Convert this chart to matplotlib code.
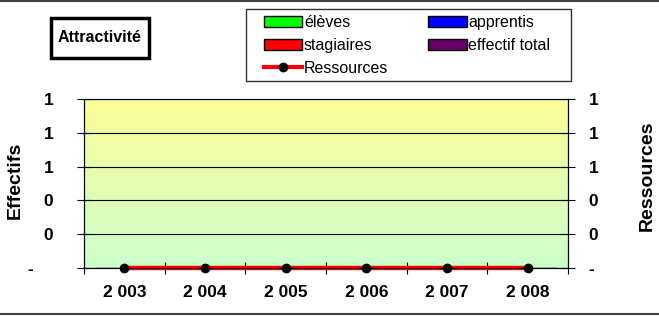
import matplotlib
matplotlib.use("Agg")
import matplotlib.pyplot as plt
import numpy as np
from matplotlib.lines import Line2D
from matplotlib.patches import Patch, Rectangle
from matplotlib.ticker import FixedLocator, FuncFormatter

plt.rcParams["font.family"] = ["Liberation Sans", "DejaVu Sans"]

years = ["2 003", "2 004", "2 005", "2 006", "2 007", "2 008"]
eleves = [0, 0, 0, 0, 0, 0]
apprentis = [0, 0, 0, 0, 0, 0]
stagiaires = [0, 0, 0, 0, 0, 0]
effectif_total = [0, 0, 0, 0, 0, 0]
ressources = [0, 0, 0, 0, 0, 0]
yticks = [0, 0.2, 0.4, 0.6, 0.8, 1.0]

W, H = 659, 316
fig = plt.figure(figsize=(W / 100, H / 100), dpi=100)
ax = fig.add_axes([84 / W, 1 - 268 / H, (568 - 84) / W, (268 - 99) / H])
ax2 = ax.twinx()

x = np.arange(len(years))
bw = 0.18
ax.bar(x - 1.5 * bw, eleves, bw, color="#00ff00", edgecolor="black")
ax.bar(x - 0.5 * bw, apprentis, bw, color="#0000ff", edgecolor="black")
ax.bar(x + 0.5 * bw, stagiaires, bw, color="#ff0000", edgecolor="black")
ax.bar(x + 1.5 * bw, effectif_total, bw, color="#660066", edgecolor="black")

# gradient background: yellow at top to pale green at bottom
top = np.array([252, 252, 150]) / 255
bot = np.array([204, 255, 204]) / 255
t = np.linspace(0, 1, 256)[:, None]
grad = (top * (1 - t) + bot * t)[:, None, :]
ax.imshow(grad, extent=[0, 1, 0, 1], transform=ax.transAxes, aspect="auto", zorder=0)

ax.set_xlim(-0.5, len(years) - 0.5)
ax.set_ylim(0, 1)
ax.yaxis.set_major_locator(FixedLocator(yticks))
ax.yaxis.set_major_formatter(FuncFormatter(lambda v, p: "-    " if v == 0 else f"{v:.0f}"))
ax.grid(axis="y", color="black", lw=0.8)
ax.set_axisbelow(False)

ax.set_xticks(x)
ax.set_xticklabels(years)
ax.set_xticks(np.arange(len(years) + 1) - 0.5, minor=True)
ax.tick_params(axis="x", which="major", length=0, pad=12, labelsize=12.5)
ax.tick_params(axis="x", which="minor", direction="inout", length=8, width=0.8)
ax.tick_params(axis="y", direction="inout", length=10, width=0.8, pad=17,
               labelsize=12.5)

ax.plot(x, ressources, color="red", lw=3.2, marker="o", ms=6,
        mfc="black", mec="black", zorder=5, clip_on=False)

for s in ("left", "bottom", "right"):
    ax.spines[s].set_color("black")
ax.spines["top"].set_color("#808080")

ax2.set_ylim(0, 1)
ax2.yaxis.set_major_locator(FixedLocator(yticks))
ax2.yaxis.set_major_formatter(FuncFormatter(lambda v, p: "-" if v == 0 else f"{v:.0f}"))
ax2.tick_params(axis="y", direction="inout", length=10, width=0.8, pad=10,
                labelsize=12.5)

for lab in ax.get_xticklabels() + ax.get_yticklabels() + ax2.get_yticklabels():
    lab.set_fontweight("bold")

fig.text(15 / W, 1 - 180 / H, "Effectifs", rotation=90, ha="center",
         va="center", fontsize=14, fontweight="bold")
fig.text(647 / W, 1 - 176 / H, "Ressources", rotation=90, ha="center",
         va="center", fontsize=14, fontweight="bold")

# title box
fig.patches.append(Rectangle((51 / W, 1 - 58 / H), 98 / W, 40 / H,
                             transform=fig.transFigure, fill=False,
                             edgecolor="black", lw=2.5))
fig.text(100 / W, 1 - 38 / H, "Attractivité", ha="center", va="center",
         fontsize=11.5, fontweight="bold")

handles = [
    Patch(facecolor="#00ff00", edgecolor="black", label="élèves"),
    Patch(facecolor="#ff0000", edgecolor="black", label="stagiaires"),
    Line2D([], [], color="red", lw=3, marker="o", ms=6, mfc="black",
           mec="black", label="Ressources"),
    Patch(facecolor="#0000ff", edgecolor="black", label="apprentis"),
    Patch(facecolor="#660066", edgecolor="black", label="effectif total"),
]
# legend frame drawn separately so the padding matches
fig.patches.append(Rectangle((246 / W, 1 - 81 / H), 325 / W, 72 / H,
                             transform=fig.transFigure, fill=False,
                             edgecolor="#333333", lw=1))
fig.legend(handles=handles, ncol=2, loc="upper left",
           bbox_to_anchor=(264 / W, 1 - 15 / H), fontsize=11.5,
           frameon=False, handlelength=2.4, handletextpad=0.1,
           columnspacing=2.5, labelspacing=0.5, borderpad=0, borderaxespad=0)

# outer frame lines (top and bottom)
fig.add_artist(Line2D([0, 1], [1 - 1 / H, 1 - 1 / H], color="#404040", lw=1.5,
                      transform=fig.transFigure))
fig.add_artist(Line2D([0, 1], [1 - 313.5 / H, 1 - 313.5 / H], color="#404040",
                      lw=1.5, transform=fig.transFigure))

fig.savefig("out.png", dpi=100)
